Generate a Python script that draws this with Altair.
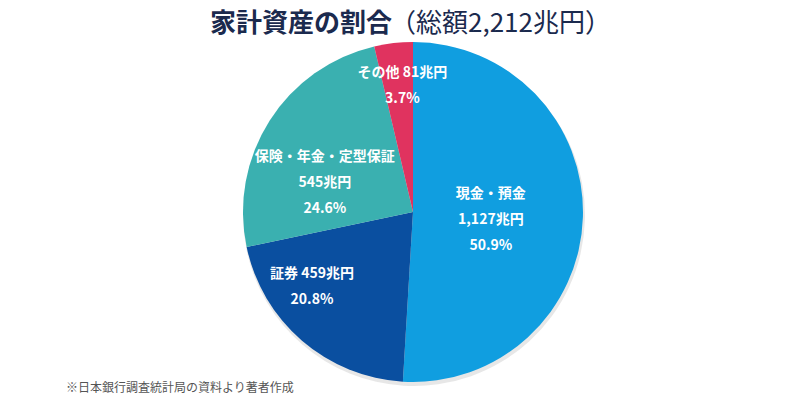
import math
import altair as alt
import pandas as pd

categories = ["現金・預金", "証券", "保険・年金・定型保証", "その他"]
amounts = [1127, 459, 545, 81]          # 兆円
shares = [50.9, 20.8, 24.6, 3.7]        # %
label_texts = [
    "現金・預金\n1,127兆円\n50.9%",
    "証券 459兆円\n20.8%",
    "保険・年金・定型保証\n545兆円\n24.6%",
    "その他 81兆円\n3.7%",
]
colors = ["#109ee0", "#0a4fa0", "#3ab0b0", "#e0335f"]

title_main = "家計資産の割合"
title_sub = "（総額2,212兆円）"
footnote = "※日本銀行調査統計局の資料より著者作成"

# label layout (style, not data): radial distance and angular nudge of each label's first line
label_radius = {"現金・預金": 80, "証券": 118.5, "保険・年金・定型保証": 104, "その他": 139}
label_nudge = {"現金・預金": -15, "証券": 17.7, "保険・年金・定型保証": -0.4, "その他": 2.2}

df = pd.DataFrame({
    "category": categories,
    "amount": amounts,
    "share": shares,
    "label": label_texts,
    "order": list(range(len(categories))),
})
df["lr"] = df["category"].map(label_radius)
df["nudge"] = df["category"].map(label_nudge)

W, H = 783, 384
CX, CY = 405, 204
R = 170

base = alt.Chart(df)

shadow = base.mark_arc(color="#bbbbbb", opacity=0.35).encode(
    theta=alt.Theta("amount:Q", stack=True),
    order=alt.Order("order:Q"),
    x=alt.value(CX + 1), y=alt.value(CY + 3),
    radius=alt.value(R + 1),
)

pie = base.mark_arc(stroke=None).encode(
    theta=alt.Theta("amount:Q", stack=True),
    order=alt.Order("order:Q"),
    color=alt.Color("category:N", scale=alt.Scale(domain=categories, range=colors), legend=None),
    x=alt.value(CX), y=alt.value(CY),
    radius=alt.value(R),
)

labels = base.transform_joinaggregate(
    total="sum(amount)"
).transform_window(
    cum="sum(amount)", sort=[alt.SortField("order")], frame=[None, 0]
).transform_calculate(
    ang="(datum.cum - datum.amount / 2) / datum.total * 360 + datum.nudge"
).mark_text(
    color="white", font="Noto Sans CJK JP", fontWeight="bold", fontSize=14,
    lineBreak="\n", lineHeight=26, align="center", baseline="middle",
).encode(
    theta=alt.Theta("ang:Q", scale=alt.Scale(domain=[0, 360], range=[0, 2 * math.pi]), stack=None),
    radius=alt.Radius("lr:Q", scale=None),
    x=alt.value(CX), y=alt.value(CY),
    text="label:N",
)

tdf = pd.DataFrame({"t": [title_main]})
t1 = alt.Chart(tdf).mark_text(
    font="Noto Sans CJK JP", fontWeight="bold", fontSize=26, color="#1b2a4e",
    align="right", baseline="middle",
).encode(x=alt.value(384), y=alt.value(16), text="t:N")

sdf = pd.DataFrame({"t": [title_sub]})
t2 = alt.Chart(sdf).mark_text(
    font="Noto Sans CJK JP", fontWeight="normal", fontSize=26, color="#1b2a4e",
    align="left", baseline="middle",
).encode(x=alt.value(382), y=alt.value(16), text="t:N")

fdf = pd.DataFrame({"t": [footnote]})
foot = alt.Chart(fdf).mark_text(
    font="Noto Sans CJK JP", fontSize=12, color="#555555",
    align="left", baseline="middle",
).encode(x=alt.value(58), y=alt.value(380), text="t:N")

chart = alt.layer(shadow, pie, labels, t1, t2, foot).resolve_scale(
    theta="independent", radius="independent"
).properties(
    width=W, height=H,
    autosize=alt.AutoSizeParams(type="none"),
    padding={"top": 0, "left": 0, "right": 0, "bottom": 8},
).configure_view(stroke=None)

chart.save("out.html", embed_options={"renderer": "svg", "actions": False})
